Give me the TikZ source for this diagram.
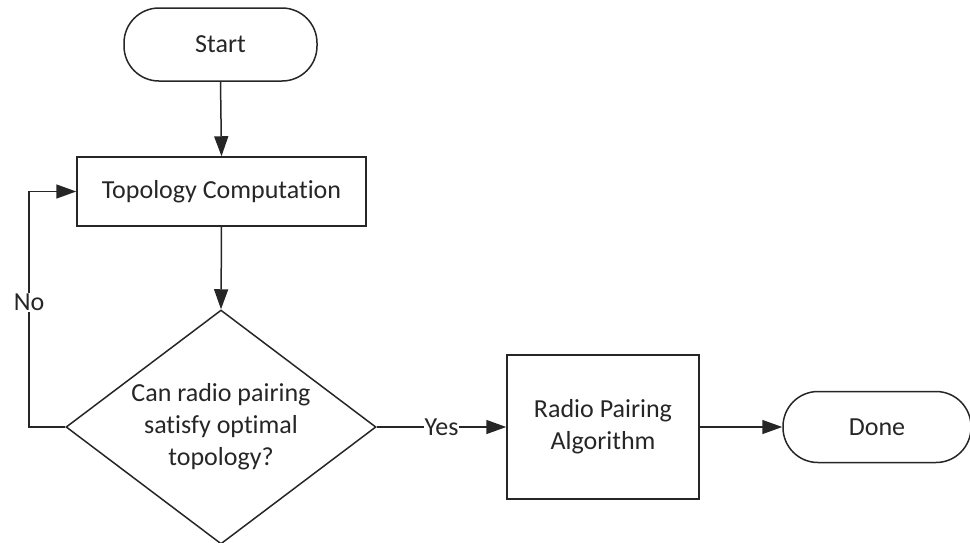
\documentclass[tikz,border=0pt]{standalone}
\usepackage{fontspec}
\setmainfont{Carlito}[Ligatures={NoCommon,NoDiscretionary}]
\usetikzlibrary{shapes.geometric,arrows.meta}
\definecolor{ink}{gray}{0.15}
\begin{document}
\begin{tikzpicture}[x=1pt,y=-1pt,
  every node/.style={font=\fontsize{26}{32}\selectfont, text=ink},
  box/.style={draw=ink, line width=1.5pt, inner sep=0pt, align=center},
  terminal/.style={box, rounded corners=35pt},
  decision/.style={draw=ink, line width=1.5pt, diamond, aspect=1.33, inner sep=0pt,
    minimum width=310pt, minimum height=234pt, align=center},
  flow/.style={draw=ink, line width=1.5pt, -{Triangle[length=20pt,width=14pt]}},
  tag/.style={fill=white, inner sep=1pt}]
  \useasboundingbox (0,0) rectangle (970,542);

  \node[terminal, minimum width=193pt, minimum height=73pt] (start) at (220.5,44.5) {Start};
  \node[box, minimum width=289pt, minimum height=69pt] (topo) at (221.5,191.5) {Topology Computation};
  \node[decision] (check) at (221,427) {Can radio pairing\\satisfy optimal\\topology?};
  \node[box, minimum width=192pt, minimum height=144pt] (pair) at (603,427) {Radio Pairing\\Algorithm};
  \node[terminal, minimum width=188pt, minimum height=71pt] (done) at (877,427) {Done};

  \coordinate (loopbot) at (29,427);
  \coordinate (looptop) at (29,191.5);

  \draw[flow] (start.south) -- (topo.north);
  \draw[flow] (topo.south) -- (check.north);
  \draw[flow] (check.west) -- (loopbot) -- node[tag, pos=0.53] {No} (looptop) -- (topo.west);
  \draw[flow] (check.east) -- node[tag] {Yes} (pair.west);
  \draw[flow] (pair.east) -- (done.west);
\end{tikzpicture}
\end{document}
